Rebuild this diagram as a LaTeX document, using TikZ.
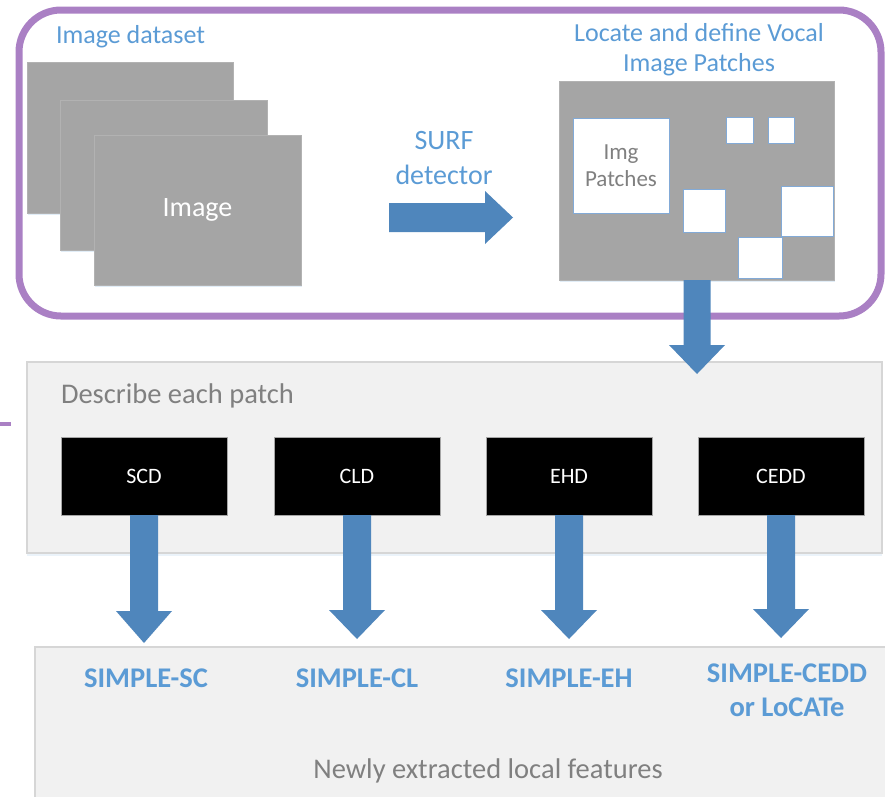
\documentclass[tikz,border=0pt]{standalone}
\usepackage{fontspec}
\setmainfont{Carlito}
\usetikzlibrary{calc,shadows}

\definecolor{framepurple}{RGB}{170,128,196}
\definecolor{titleblue}{RGB}{91,155,213}
\definecolor{arrowblue}{RGB}{79,134,188}
\definecolor{photogray}{RGB}{165,165,165}
\definecolor{panelfill}{RGB}{241,241,241}
\definecolor{panelline}{RGB}{214,214,214}
\definecolor{textgray}{RGB}{128,128,128}
\definecolor{patchline}{RGB}{130,170,215}

% block arrow pointing down: #2 top of the shaft, #3 tip, #4 head length, #1 half shaft width
\newcommand\blockdown[4][14]{%
  \fill[arrowblue] let \p1=(#2), \p2=(#3) in
    (\x1-#1pt,\y1) -- (\x1+#1pt,\y1) -- (\x1+#1pt,\y2+#4pt) -- (\x1+28pt,\y2+#4pt)
    -- (\x1,\y2) -- (\x1-28pt,\y2+#4pt) -- (\x1-#1pt,\y2+#4pt) -- cycle;}

\begin{document}
\begin{tikzpicture}[x=1pt,y=-1pt,
  every node/.style={inner sep=0pt,outer sep=0pt},
  photo/.style={fill=photogray,draw=photogray!85!white,line width=0.8pt,
    drop shadow={shadow xshift=1pt,shadow yshift=-2pt,opacity=0.18,fill=titleblue}},
  patch/.style={fill=white,draw=patchline,line width=1pt},
  panel/.style={fill=panelfill,draw=panelline,line width=1.2pt},
  descbox/.style={fill=black,draw=gray!70,line width=0.6pt,minimum width=166pt,
    minimum height=78pt,text=white,font=\fontsize{22}{26}\selectfont},
  heading/.style={text=titleblue,font=\fontsize{26}{30}\selectfont,align=center},
  plain/.style={text=textgray,font=\fontsize{28.5}{32}\selectfont},
  result/.style={text=titleblue,font=\bfseries\fontsize{28.5}{34}\selectfont,align=center}]
\useasboundingbox (0,0) rectangle (885,796);
\clip (0,0) rectangle (885,796);

% ---------- detection stage ----------
\draw[framepurple,line width=7pt,rounded corners=42pt] (19,10) rectangle (881,316);
\draw[framepurple,line width=4pt] (0,424) -- (11,424);

\node[heading,anchor=west] (dataset) at (56,37) {Image dataset};
\path[photo] (27,62) rectangle (233,213);
\path[photo] (60,100) rectangle (267,250);
\node[photo,minimum width=207pt,minimum height=150pt,text=white,
  font=\fontsize{28}{32}\selectfont] (img) at (197.5,210) {Image};

\node[heading,font=\fontsize{28}{35}\selectfont] (surf) at (444,158) {SURF\\detector};
\node[heading] (locate) at (699,50) {Locate and define Vocal\\Image Patches};

\node[photo,minimum width=275pt,minimum height=199pt] (pr) at (696.5,180.5) {};
\node[patch,minimum width=96pt,minimum height=95pt,align=center,text=textgray,
  font=\fontsize{23}{27}\selectfont] (big) at (621,165.5) {Img\\Patches};
\node[patch,minimum width=27pt,minimum height=26pt] (p1) at (739.5,130) {};
\node[patch,minimum width=26pt,minimum height=26pt] (p2) at (781,130) {};
\node[patch,minimum width=42pt,minimum height=43pt] (p3) at (704,210.5) {};
\node[patch,minimum width=52pt,minimum height=50pt] (p4) at (807,211) {};
\node[patch,minimum width=44pt,minimum height=41pt] (p5) at (760,257.5) {};

% SURF arrow
\coordinate (sa) at (389,217.5);
\coordinate (sb) at (513,217.5);
\fill[arrowblue] let \p1=(sa), \p2=(sb) in
  (\x1,\y1+14.5pt) -- (\x2-28pt,\y1+14.5pt) -- (\x2-28pt,\y1+26.5pt) -- (\x2,\y2)
  -- (\x2-28pt,\y1-26.5pt) -- (\x2-28pt,\y1-14.5pt) -- (\x1,\y1-14.5pt) -- cycle;

% ---------- description stage ----------
\node[panel,minimum width=855pt,minimum height=191pt,
  drop shadow={shadow xshift=0pt,shadow yshift=-3pt,opacity=0.12,fill=titleblue}]
  (desc) at (454.5,457.5) {};
\node[plain,anchor=west] (desclabel) at (61,396) {Describe each patch};

\node[descbox] (scd) at (144,476) {SCD};
\node[descbox] (cld) at (357,476) {CLD};
\node[descbox] (ehd) at (569,476) {EHD};
\node[descbox] (cedd) at (781,476) {CEDD};

\coordinate (downtip) at (697,374);
\blockdown[13.5]{pr.south -| downtip}{downtip}{29}

% ---------- results ----------
\node[panel,minimum width=900pt,minimum height=200pt] (feat) at (485,747) {};

\node[result] (rsc) at (146,678) {SIMPLE-SC};
\node[result] (rcl) at (357,678) {SIMPLE-CL};
\node[result] (reh) at (569,678) {SIMPLE-EH};
\node[result] (rcedd) at (787,690) {SIMPLE-CEDD\\or LoCATe};
\node[plain] (newly) at (488,771) {Newly extracted local features};

\coordinate (t1) at (144,643);
\coordinate (t2) at (357,639);
\coordinate (t3) at (569,639);
\coordinate (t4) at (781,638);
\blockdown{scd.south -| t1}{t1}{32}
\blockdown{cld.south -| t2}{t2}{29}
\blockdown{ehd.south -| t3}{t3}{29}
\blockdown{cedd.south -| t4}{t4}{29}
\end{tikzpicture}
\end{document}
